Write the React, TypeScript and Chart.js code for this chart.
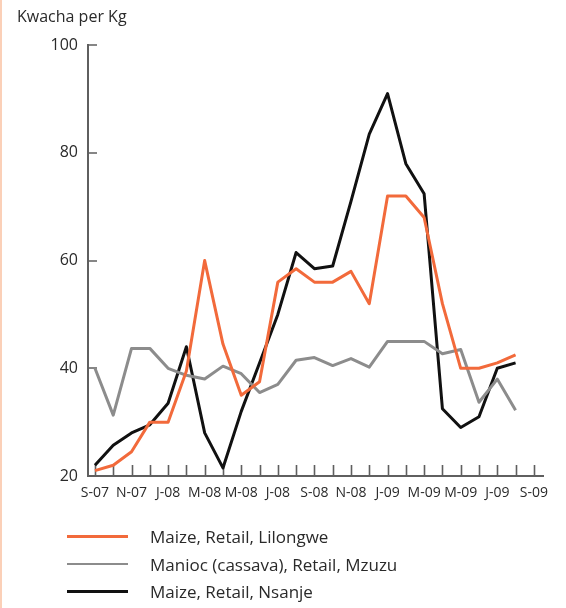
import React, { useEffect, useRef } from 'react';
import { Chart, registerables } from 'chart.js';

Chart.register(...registerables);

// Monthly categories, Sep 2007 – Sep 2009 (labels shown every other month)
const months = [
  'S-07', 'O-07', 'N-07', 'D-07', 'J-08', 'F-08', 'M-08', 'A-08', 'M-08', 'J-08', 'J-08', 'A-08',
  'S-08', 'O-08', 'N-08', 'D-08', 'J-09', 'F-09', 'M-09', 'A-09', 'M-09', 'J-09', 'J-09', 'A-09', 'S-09',
];

const lilongwe = [21, 22, 24.5, 30, 30, 39.5, 60, 44.5, 35, 37.5, 56, 58.5, 56, 56, 58, 52, 72, 72, 68, 52, 40, 40, 41, 42.5];
const mzuzu = [40, 31.3, 43.7, 43.7, 40, 38.7, 38, 40.4, 39, 35.5, 37, 41.5, 42, 40.5, 41.8, 40.2, 45, 45, 45, 42.7, 43.5, 33.7, 38, 32.2];
const nsanje = [22, 25.7, 28, 29.5, 33.5, 44, 28, 21.5, 32, 41, 50, 61.5, 58.5, 59, 71, 83.5, 91, 78, 72.4, 32.5, 29, 31, 40, 41];

const seriesNames = ['Maize, Retail, Lilongwe', 'Manioc (cassava), Retail, Mzuzu', 'Maize, Retail, Nsanje'];
const seriesColors = ['#f26a3b', '#8c8c8c', '#111111'];

const yTicks = [20, 40, 60, 80, 100];

const FONT = "'Open Sans', 'DejaVu Sans', sans-serif";
const AXIS = '#5f5f5f';
const TEXT = '#2a2a2a';

const tickMarks = {
  id: 'tickMarks',
  beforeDatasetsDraw(chart: any) {
    const { ctx } = chart;
    const xs = chart.scales.x;
    const ys = chart.scales.y;
    ctx.save();
    ctx.strokeStyle = AXIS;
    ctx.lineWidth = 1.6;
    ctx.beginPath();
    xs.ticks.forEach((t: any) => {
      const px = Math.round(xs.getPixelForValue(t.value)) + 0.5;
      ctx.moveTo(px, ys.bottom);
      ctx.lineTo(px, ys.bottom - 11);
    });
    ys.ticks.forEach((t: any) => {
      const py = Math.round(ys.getPixelForValue(t.value));
      ctx.moveTo(xs.left, py);
      ctx.lineTo(xs.left + 9, py);
    });
    ctx.stroke();
    ctx.restore();
  },
};

function toPoints(vals: number[]) {
  return vals.map((v, i) => ({ x: i, y: v }));
}

export default function App() {
  const ref = useRef<HTMLCanvasElement | null>(null);

  useEffect(() => {
    if (!ref.current) return;
    const series = [lilongwe, mzuzu, nsanje];
    const chart = new Chart(ref.current, {
      type: 'line',
      data: {
        datasets: series.map((vals, k) => ({
          label: seriesNames[k],
          data: toPoints(vals),
          borderColor: seriesColors[k],
          backgroundColor: seriesColors[k],
          borderWidth: 3,
          pointRadius: 0,
          tension: 0,
          borderJoinStyle: 'round' as const,
          fill: false,
        })),
      },
      options: {
        animation: false,
        responsive: false,
        maintainAspectRatio: false,
        layout: { padding: { left: 17, right: 23, top: 0, bottom: 0 } },
        plugins: {
          legend: { display: false },
          tooltip: { enabled: false },
          title: {
            display: true,
            text: 'Kwacha per Kg',
            align: 'start',
            color: TEXT,
            font: { family: FONT, size: 16, weight: 'normal' },
            padding: { top: 8, bottom: 18 },
          },
        },
        scales: {
          x: {
            type: 'linear',
            min: -0.38,
            max: 24.5,
            afterBuildTicks: (s: any) => {
              s.ticks = months.map((_, i) => ({ value: i }));
            },
            afterFit: (s: any) => {
              s.height = 132;
            },
            grid: { display: false, drawTicks: false },
            border: { display: true, color: AXIS, width: 2 },
            ticks: {
              autoSkip: false,
              maxRotation: 0,
              padding: 9,
              color: TEXT,
              font: { family: FONT, size: 14 },
              callback: (v: any) => (Number(v) % 2 === 0 ? months[Number(v)] : ''),
            },
          },
          y: {
            min: 20,
            max: 100,
            afterBuildTicks: (s: any) => {
              s.ticks = yTicks.map((v) => ({ value: v }));
            },
            afterFit: (s: any) => {
              s.width = 71;
            },
            grid: { display: false, drawTicks: false },
            border: { display: true, color: AXIS, width: 2 },
            ticks: {
              padding: 10,
              color: TEXT,
              font: { family: FONT, size: 16 },
            },
          },
        },
      },
      plugins: [tickMarks],
    });
    return () => chart.destroy();
  }, []);

  const legendTops = [536, 564, 591];

  return (
    <div style={{ position: 'fixed', left: 0, top: 0, width: 566, height: 608, background: '#fff', overflow: 'hidden' }}>
      <div style={{ position: 'absolute', left: 0, top: 0, width: 2, height: 608, background: '#fbd0b8' }} />
      <canvas ref={ref} width={566} height={608} style={{ position: 'absolute', left: 0, top: 0 }} />
      {seriesNames.map((name, k) => (
        <div
          key={name}
          style={{
            position: 'absolute',
            left: 67,
            top: legendTops[k] - 12,
            height: 24,
            display: 'flex',
            alignItems: 'center',
            fontFamily: FONT,
            fontSize: 17,
            color: TEXT,
            whiteSpace: 'nowrap',
          }}
        >
          <span style={{ display: 'inline-block', width: 61, height: k === 1 ? 2.5 : 3, background: seriesColors[k] }} />
          <span style={{ marginLeft: 22 }}>{name}</span>
        </div>
      ))}
    </div>
  );
}
